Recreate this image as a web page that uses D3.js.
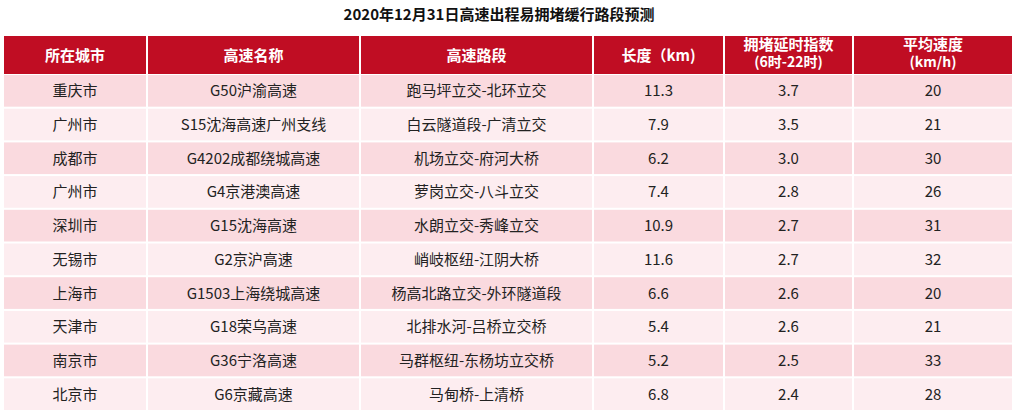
<!DOCTYPE html>
<html><head><meta charset="utf-8">
<script src="https://cdn.jsdelivr.net/npm/d3@7"></script>
<style>body{margin:0;background:#fff;font-family:"Noto Sans CJK SC","Noto Sans",sans-serif;}</style>
</head><body><div id="wrapper"></div>
<script>
const title = "2020年12月31日高速出程易拥堵缓行路段预测";
const headers = [["所在城市"], ["高速名称"], ["高速路段"], ["长度（km)"], ["拥堵延时指数", "(6时-22时)"], ["平均速度", "(km/h)"]];
const cities = ["重庆市","广州市","成都市","广州市","深圳市","无锡市","上海市","天津市","南京市","北京市"];
const roads = ["G50沪渝高速","S15沈海高速广州支线","G4202成都绕城高速","G4京港澳高速","G15沈海高速","G2京沪高速","G1503上海绕城高速","G18荣乌高速","G36宁洛高速","G6京藏高速"];
const sections = ["跑马坪立交-北环立交","白云隧道段-广清立交","机场立交-府河大桥","萝岗立交-八斗立交","水朗立交-秀峰立交","峭岐枢纽-江阴大桥","杨高北路立交-外环隧道段","北排水河-吕桥立交桥","马群枢纽-东杨坊立交桥","马甸桥-上清桥"];
const lengths = ["11.3","7.9","6.2","7.4","10.9","11.6","6.6","5.4","5.2","6.8"];
const delayIndex = ["3.7","3.5","3.0","2.8","2.7","2.7","2.6","2.6","2.5","2.4"];
const speeds = ["20","21","30","26","31","32","20","21","33","28"];

const rows = cities.map((c, i) => [c, roads[i], sections[i], lengths[i], delayIndex[i], speeds[i]]);

const W = 1017, H = 413;
const colEdges = [4, 147, 360, 593, 724, 853, 1013];
const headerTop = 36, headerBottom = 74, rowPitch = 33.5;

const svg = d3.select("#wrapper").append("svg").attr("width", W).attr("height", H);

svg.append("text").attr("x", 499).attr("y", 20).attr("text-anchor", "middle")
  .attr("font-size", 15).attr("font-weight", "bold").attr("fill", "#111").text(title);

const y = d3.scaleBand().domain(d3.range(rows.length))
  .range([headerBottom + 1, headerBottom + 1 + rowPitch * rows.length]).paddingInner(0.06);

// header
headers.forEach((h, j) => {
  const x0 = colEdges[j] + (j ? 1 : 0), x1 = colEdges[j + 1] - 1;
  svg.append("rect").attr("x", x0).attr("y", headerTop).attr("width", x1 - x0)
    .attr("height", headerBottom - headerTop).attr("fill", "#C00D23");
  const t = svg.append("text").attr("x", (x0 + x1) / 2).attr("text-anchor", "middle")
    .attr("fill", "#fff").attr("font-size", 15).attr("font-weight", "bold");
  if (h.length === 1) t.attr("y", 61).text(h[0]);
  else h.forEach((s, k) => t.append("tspan").attr("x", (x0 + x1) / 2).attr("y", 50 + k * 17)
    .attr("font-size", k ? 14 : 15).text(s));
});

// body
rows.forEach((r, i) => {
  r.forEach((v, j) => {
    const x0 = colEdges[j] + (j ? 1 : 0), x1 = colEdges[j + 1] - 1;
    svg.append("rect").attr("x", x0).attr("y", y(i)).attr("width", x1 - x0)
      .attr("height", y.bandwidth()).attr("fill", i % 2 ? "#FDEDF0" : "#FADADF");
    svg.append("text").attr("x", (x0 + x1) / 2).attr("y", y(i) + y.bandwidth() / 2 + 5.5)
      .attr("text-anchor", "middle").attr("font-size", 15).attr("fill", "#222").text(v);
  });
});
</script></body></html>
